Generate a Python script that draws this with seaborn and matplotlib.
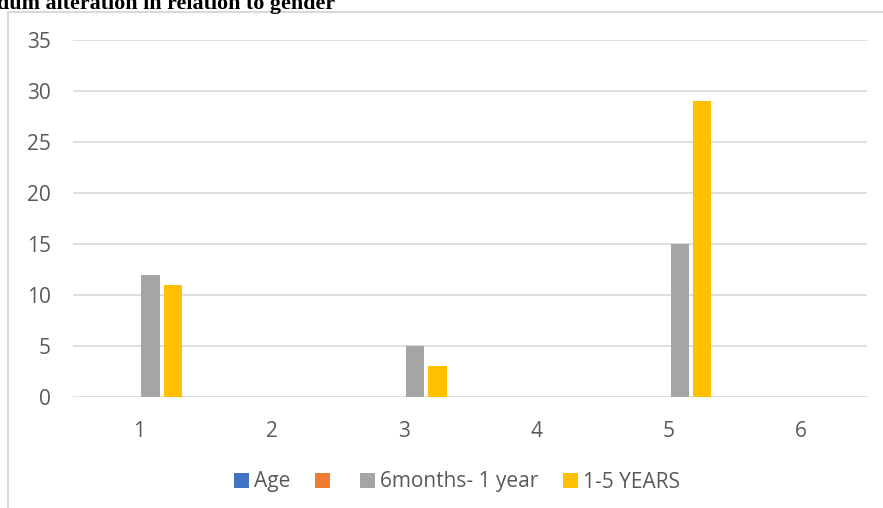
import pandas as pd
import seaborn as sns
import matplotlib.pyplot as plt
from matplotlib.patches import Patch, Rectangle

# data
categories = ["1", "2", "3", "4", "5", "6"]
series = ["Age", "", "6months- 1 year", "1-5 YEARS"]
age = [0, 0, 0, 0, 0, 0]
blank = [0, 0, 0, 0, 0, 0]
months_6_1y = [12, 0, 5, 0, 15, 0]
years_1_5 = [11, 0, 3, 0, 29, 0]
colors = ["#4472C4", "#ED7D31", "#A5A5A5", "#FFC000"]

rows = []
for name, vals in zip(series, [age, blank, months_6_1y, years_1_5]):
    for cat, v in zip(categories, vals):
        rows.append({"category": cat, "series": name, "value": v})
df = pd.DataFrame(rows)

sns.set_style("white")
plt.rcParams["font.family"] = ["Open Sans", "DejaVu Sans"]

W, H = 883, 508
fig = plt.figure(figsize=(W / 100, H / 100), dpi=100)
ax = fig.add_axes([73 / W, 1 - 397 / H, 794 / W, 357 / H])

sns.barplot(data=df, x="category", y="value", hue="series", order=categories,
            hue_order=series, palette=colors, saturation=1, width=0.68, gap=0.18,
            linewidth=0, legend=False, ax=ax)

ax.set_ylim(0, 35)
ax.set_yticks(range(0, 36, 5))
ax.yaxis.grid(True, color="#d9d9d9", linewidth=1.2)
ax.set_axisbelow(True)
for s in ax.spines.values():
    s.set_visible(False)
ax.set_xlabel("")
ax.set_ylabel("")
ax.tick_params(axis="both", length=0, labelsize=15, colors="#595959")
ax.tick_params(axis="y", pad=16)
ax.tick_params(axis="x", pad=17)

handles = [Patch(facecolor=c, edgecolor="none") for c in colors]
fig.legend(handles, series, loc="center", bbox_to_anchor=(457 / W, 1 - 482 / H),
           ncol=4, frameon=False, fontsize=15, labelcolor="#595959",
           handlelength=0.7, handleheight=0.7, handletextpad=0.25, columnspacing=1.2)

# chart frame and clipped heading
fig.add_artist(Rectangle((8 / W, -0.1), 1.2, (H - 12) / H + 0.1, transform=fig.transFigure,
                         fill=False, edgecolor="#d9d9d9", linewidth=1.5))
fig.text(-3 / W, 1 - 9 / H, "dum alteration in relation to gender", ha="left", va="baseline",
         fontsize=15.8, fontweight="bold", family="Liberation Serif", color="black")

plt.savefig("out.png", dpi=100)
